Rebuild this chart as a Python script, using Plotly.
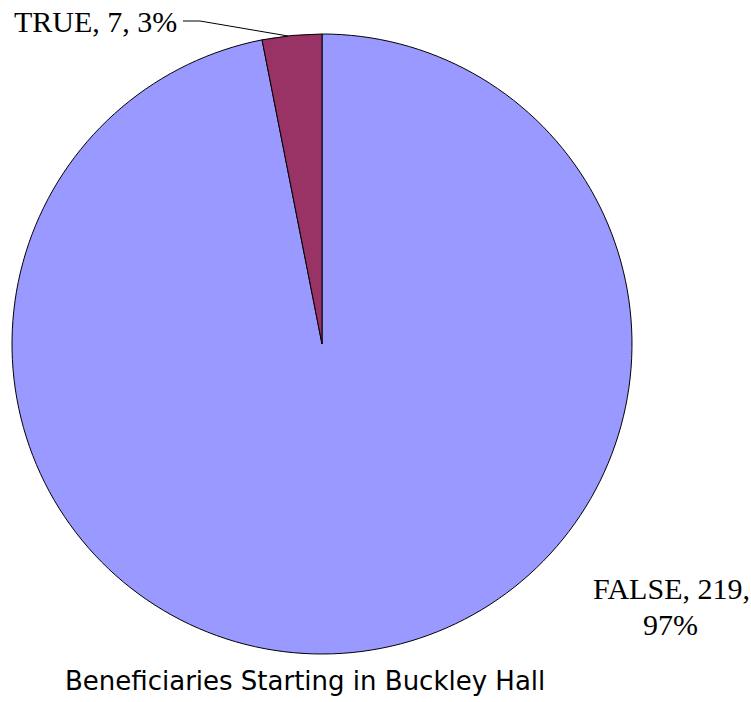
import plotly.graph_objects as go

labels = ["FALSE", "TRUE"]
values = [219, 7]
colors = ["#9999FF", "#993366"]
title = "Beneficiaries Starting in Buckley Hall"

W, H = 751, 702
total = sum(values)
pct = [round(v / total * 100) for v in values]

fig = go.Figure(go.Pie(
    labels=labels, values=values, sort=False, direction="clockwise", rotation=0,
    marker=dict(colors=colors, line=dict(color="black", width=1)),
    textinfo="none", hoverinfo="label+value+percent", showlegend=False,
    domain=dict(x=[12 / W, 632 / W], y=[(H - 654) / H, (H - 34) / H]),
))

serif = dict(family="Liberation Serif, Times New Roman, serif", size=30, color="black")


def label(text, x, y, anchor="center"):
    fig.add_annotation(x=x / W, y=1 - y / H, xref="paper", yref="paper",
                       xanchor=anchor, yanchor="middle", text=text,
                       showarrow=False, font=serif)


label(f"{labels[1]}, {values[1]}, {pct[1]}%", 12, 21, "left")
# FALSE label wraps onto two lines, tighter than plotly's line height
label(f"{labels[0]}, {values[0]},", 671, 588)
label(f"{pct[0]}%", 670, 624)

# leader line for the small slice
fig.add_shape(type="path", xref="paper", yref="paper",
              path=f"M {183 / W} {1 - 21 / H} L {200 / W} {1 - 21 / H} L {288 / W} {1 - 36 / H}",
              line=dict(color="black", width=1))

fig.add_annotation(
    x=305 / W, y=1 - 681 / H, xref="paper", yref="paper", xanchor="center", yanchor="middle",
    text=title, showarrow=False,
    font=dict(family="DejaVu Sans, Arial, sans-serif", size=26, color="black"),
)

fig.update_layout(
    width=W, height=H, margin=dict(l=0, r=0, t=0, b=0),
    paper_bgcolor="white", plot_bgcolor="white",
)

# page body has a default 8px margin; remove it so the figure fills the window
fig.write_html("out.html", config={"displayModeBar": False},
               post_script="document.body.style.margin='0px';")
